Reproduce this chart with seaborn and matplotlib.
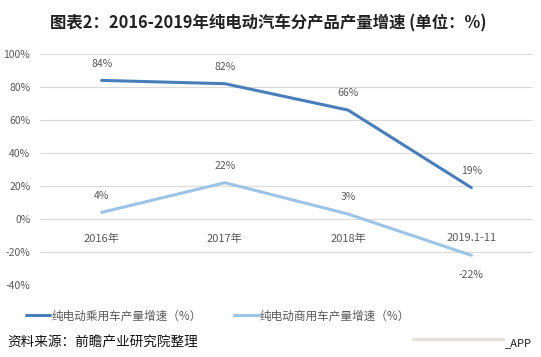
import matplotlib
matplotlib.use("Agg")
import matplotlib.pyplot as plt
from matplotlib.lines import Line2D
import seaborn as sns
import pandas as pd

sns.set_theme(style="white")
plt.rcParams['font.family'] = ['Noto Sans CJK SC', 'DejaVu Sans']

# data
years = ["2016年", "2017年", "2018年", "2019.1-11"]
passenger = [84, 82, 66, 19]
commercial = [4, 22, 3, -22]
s1 = "纯电动乘用车产量增速（%）"
s2 = "纯电动商用车产量增速（%）"

df = pd.DataFrame({"year": years, s1: passenger, s2: commercial})
long = df.melt(id_vars="year", var_name="series", value_name="value")
long["x"] = long["year"].map({y: i for i, y in enumerate(years)})

colors = {s1: "#4a7ebb", s2: "#9dc3e6"}

fig = plt.figure(figsize=(5.41, 3.57), dpi=100)
ax = fig.add_axes([40 / 541, 1 - 285 / 357, 493 / 541, 231 / 357])

sns.lineplot(data=long, x="x", y="value", hue="series", palette=colors,
             linewidth=2.2, ax=ax, legend=False)

ax.set_xlim(-0.5, 3.5)
ax.set_ylim(-40, 100)
ax.set_yticks(range(-40, 101, 20))
ax.set_yticklabels([f"{v}%" for v in range(-40, 101, 20)], fontsize=7.5, color="#595959")
ax.tick_params(axis="y", length=0, pad=7)
ax.set_xticks([])
ax.grid(axis="y", color="#d9d9d9", linewidth=0.8)
for sp in ax.spines.values():
    sp.set_visible(False)
ax.set_xlabel("")
ax.set_ylabel("")

# category labels just below the zero line
for i, y in enumerate(years):
    ax.annotate(y, (i, 0), xytext=(0, -14), textcoords="offset points",
                ha="center", va="center", fontsize=8, color="#595959")

# data labels
for i, v in enumerate(passenger):
    ax.annotate(f"{v}%", (i, v), xytext=(0, 12), textcoords="offset points",
                ha="center", va="center", fontsize=7.5, color="#595959")
for i, v in enumerate(commercial):
    off = -14 if v < 0 else 12
    ax.annotate(f"{v}%", (i, v), xytext=(0, off), textcoords="offset points",
                ha="center", va="center", fontsize=7.5, color="#595959")

# title
fig.text(0.495, 1 - 23 / 357, "图表2：2016-2019年纯电动汽车分产品产量增速 (单位：%)",
         ha="center", va="center", fontsize=11.8, fontweight="bold", color="#222222")

# legend
handles = [Line2D([0], [0], color=colors[s1], lw=2.2),
           Line2D([0], [0], color=colors[s2], lw=2.2)]
fig.legend(handles, [s1, s2], loc="center left", bbox_to_anchor=(15 / 541, 1 - 316 / 357),
           ncol=2, frameon=False, fontsize=8.4, handlelength=2.1, handletextpad=0.1,
           columnspacing=2.8, labelcolor="#595959")

# source
fig.text(7 / 541, 1 - 343 / 357, "资料来源：前瞻产业研究院整理", ha="left", va="center",
         fontsize=9.8, color="#111111")
fig.add_artist(Line2D([413 / 541, 503 / 541], [1 - 339 / 357, 1 - 339 / 357],
                      color="#e3e3dc", lw=2.5))
fig.text(505 / 541, 1 - 343 / 357, "_APP", ha="left", va="center", fontsize=8, color="#222222")

fig.savefig("out.png", dpi=100)
